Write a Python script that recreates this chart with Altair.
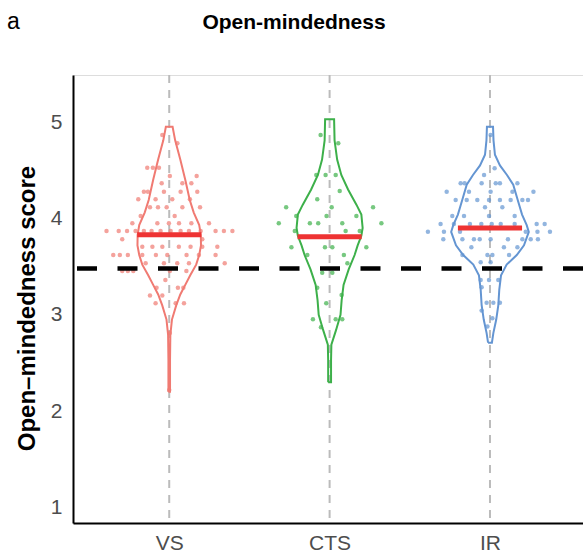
import altair as alt
import pandas as pd

# ---------------- data ----------------
groups = ["VS", "CTS", "IR"]
group_pos = [1, 2, 3]
line_colors = ["#F07A72", "#3DB04A", "#6495D2"]

# violin outlines: score level and half-width (in category units)
vs_prof_y = [2.20, 2.53, 2.79, 2.95, 3.10, 3.21, 3.31, 3.41, 3.52, 3.62, 3.72, 3.83, 3.93, 4.06, 4.19, 4.40, 4.61, 4.81, 4.95]
vs_prof_w = [0.005, 0.005, 0.007, 0.017, 0.044, 0.069, 0.100, 0.131, 0.168, 0.187, 0.198, 0.197, 0.187, 0.153, 0.128, 0.100, 0.069, 0.037, 0.021]

cts_prof_y = [2.30, 2.53, 2.69, 2.84, 3.00, 3.15, 3.31, 3.47, 3.62, 3.72, 3.82, 3.90, 4.04, 4.14, 4.30, 4.45, 4.61, 4.81, 5.03]
cts_prof_w = [0.009, 0.009, 0.011, 0.040, 0.068, 0.075, 0.087, 0.119, 0.156, 0.175, 0.198, 0.206, 0.198, 0.168, 0.115, 0.073, 0.047, 0.031, 0.028]

ir_prof_y = [2.71, 2.81, 2.95, 3.10, 3.26, 3.41, 3.52, 3.62, 3.72, 3.86, 3.93, 4.04, 4.19, 4.35, 4.45, 4.55, 4.66, 4.81, 4.95]
ir_prof_w = [0.012, 0.021, 0.039, 0.052, 0.058, 0.069, 0.104, 0.167, 0.212, 0.242, 0.229, 0.200, 0.173, 0.145, 0.106, 0.062, 0.031, 0.022, 0.019]

# jittered individual scores: score and horizontal jitter (category units)
vs_pts_y = [4.865, 4.78, 4.526, 4.526, 4.526, 4.44, 4.44, 4.364, 4.364, 4.364,
            4.277, 4.277, 4.277, 4.277, 4.277, 4.198, 4.198, 4.198, 4.198,
            4.115, 4.115, 4.115, 4.115, 4.115, 4.025, 4.025,
            3.949, 3.949, 3.949, 3.949, 3.949, 3.949,
            3.869, 3.869, 3.869, 3.869, 3.869, 3.869, 3.869, 3.869, 3.869, 3.869, 3.869, 3.869, 3.869, 3.869,
            3.783, 3.783,
            3.706, 3.706, 3.706, 3.706, 3.706, 3.706, 3.706,
            3.62, 3.62, 3.62, 3.62, 3.62, 3.62, 3.62, 3.62, 3.62,
            3.534, 3.534, 3.534, 3.534, 3.534,
            3.454, 3.454, 3.454, 3.454, 3.454,
            3.361, 3.281, 3.281, 3.281, 3.2, 3.2, 3.119, 3.119, 3.119, 2.811, 2.22]
vs_pts_dx = [-0.043, 0.051, -0.137, -0.102, -0.064, 0.004, 0.171, -0.047, 0.082, 0.138,
             -0.158, -0.133, -0.033, 0.071, 0.175, -0.193, -0.085, 0.019, 0.129,
             -0.12, -0.07, -0.016, 0.082, 0.192, -0.178, 0.034,
             -0.23, -0.074, -0.002, 0.061, 0.138, 0.248,
             -0.391, -0.315, -0.263, -0.21, -0.158, -0.11, -0.054, 0.009, 0.071, 0.123, 0.196, 0.289, 0.341, 0.394,
             -0.293, 0.206,
             -0.168, -0.105, -0.043, 0.06, 0.133, 0.206, 0.3,
             -0.349, -0.308, -0.258, -0.168, -0.083, -0.012, 0.108, 0.185, 0.289,
             -0.147, -0.033, 0.05, 0.123, 0.346,
             -0.293, -0.258, -0.224, 0.004, 0.107,
             -0.024, -0.079, 0.054, 0.088, -0.12, -0.043, -0.085, 0.04, 0.092, 0.004, 0.0]

cts_pts_y = [4.865, 4.78, 4.45, 4.45, 4.45, 4.284, 4.198, 4.115, 4.115, 4.115,
             4.025, 4.025, 4.025, 3.949, 3.949, 3.949, 3.949, 3.949,
             3.869, 3.869, 3.869, 3.70, 3.70, 3.70, 3.70, 3.62, 3.62, 3.534,
             3.437, 3.437, 3.281, 3.205, 3.119, 2.953, 2.953, 2.953, 2.87]
cts_pts_dx = [-0.056, 0.054, -0.083, -0.025, 0.038, 0.063, -0.077, -0.271, 0.013, 0.271,
              -0.208, -0.019, 0.167, -0.317, -0.123, -0.071, 0.079, 0.323,
              -0.217, 0.10, 0.188, -0.238, -0.029, 0.017, 0.229, -0.139, 0.089, 0.111,
              -0.046, 0.017, -0.077, 0.075, -0.021, -0.104, 0.038, 0.079, -0.054]

ir_pts_y = [4.865, 4.52, 4.45, 4.364, 4.364, 4.364, 4.364, 4.364, 4.364,
            4.277, 4.277, 4.277, 4.277, 4.277,
            4.191, 4.191, 4.191, 4.191, 4.191, 4.191, 4.191, 4.191,
            4.115, 4.115, 4.025, 4.025, 4.025, 4.025,
            3.942, 3.942, 3.942, 3.942, 3.942, 3.942, 3.942, 3.942, 3.942,
            3.862, 3.862, 3.862, 3.862, 3.862, 3.862,
            3.783, 3.783, 3.783, 3.783, 3.783, 3.783, 3.783, 3.783, 3.783,
            3.70, 3.70, 3.70, 3.62, 3.62, 3.62, 3.62, 3.545, 3.545,
            3.361, 3.361, 3.361, 3.285, 3.125, 3.125, 3.125, 3.043, 2.964, 2.877]
ir_pts_dx = [0.004, 0.029, -0.037, -0.183, -0.158, -0.052, 0.036, 0.062, 0.171,
             -0.27, -0.131, 0.004, 0.14, 0.271,
             -0.214, -0.145, -0.079, -0.006, 0.062, 0.129, 0.202, 0.237,
             -0.031, 0.077, -0.235, -0.162, -0.006, 0.154,
             -0.308, -0.225, -0.125, -0.054, 0.011, 0.067, 0.154, 0.291, 0.341,
             -0.387, -0.287, -0.187, 0.223, 0.296, 0.374,
             -0.291, -0.172, -0.10, -0.064, 0.004, 0.112, 0.202, 0.254, 0.299,
             -0.116, 0.087, 0.171, -0.172, -0.016, 0.015, 0.119, -0.058, 0.004,
             -0.058, -0.006, 0.052, -0.052, -0.021, 0.021, 0.062, -0.052, 0.015, -0.016]

group_means = [3.83, 3.81, 3.90]
mean_bar_halfwidth = 0.2
reference_score = 3.48

title_text = "Open-mindedness"
panel_letter = "a"

# ---------------- tables ----------------
profiles = [(vs_prof_y, vs_prof_w), (cts_prof_y, cts_prof_w), (ir_prof_y, ir_prof_w)]
points = [(vs_pts_y, vs_pts_dx), (cts_pts_y, cts_pts_dx), (ir_pts_y, ir_pts_dx)]

violin_rows = []
for g, c, (py, pw) in zip(groups, group_pos, profiles):
    order = 0
    for yv, wv in zip(py, pw):
        violin_rows.append({"group": g, "x": c - wv, "y": yv, "order": order})
        order += 1
    for yv, wv in zip(reversed(py), reversed(pw)):
        violin_rows.append({"group": g, "x": c + wv, "y": yv, "order": order})
        order += 1
    violin_rows.append({"group": g, "x": c - pw[0], "y": py[0], "order": order})
violin_df = pd.DataFrame(violin_rows)

point_rows = []
for g, c, (py, pdx) in zip(groups, group_pos, points):
    for yv, dx in zip(py, pdx):
        point_rows.append({"group": g, "x": c + dx, "y": yv})
points_df = pd.DataFrame(point_rows)

means_df = pd.DataFrame({
    "group": groups,
    "x": [c - mean_bar_halfwidth for c in group_pos],
    "x2": [c + mean_bar_halfwidth for c in group_pos],
    "y": group_means,
})
centers_df = pd.DataFrame({"group": groups, "x": group_pos})
ref_df = pd.DataFrame({"y": [reference_score]})

# ---------------- chart ----------------
FONT = "Liberation Sans"
label_expr = " : ".join(
    [f"datum.value == {p} ? '{g}'" for p, g in zip(group_pos[:-1], groups[:-1])]
) + f" : '{groups[-1]}'"

x_scale = alt.Scale(domain=[0.4, 3.58], nice=False, zero=False)
y_scale = alt.Scale(domain=[0.839, 5.488], nice=False, zero=False)
color_scale = alt.Scale(domain=groups, range=line_colors)

x_axis = alt.Axis(values=group_pos, labelExpr=label_expr, title=None, grid=False,
                  ticks=False, domainColor="black", domainWidth=2,
                  labelFontSize=21, labelColor="#4D4D4D", labelFont=FONT, labelPadding=9)
y_axis = alt.Axis(values=[1, 2, 3, 4, 5], format="d", title="Open\u2013mindedness score", grid=False,
                  ticks=False, domainColor="black", domainWidth=2,
                  labelFontSize=21, labelColor="#4D4D4D", labelFont=FONT, labelPadding=11,
                  titleFontSize=24, titleFontWeight="bold", titleFont=FONT, titleColor="black",
                  titleX=-46, titleY=233, titleAngle=-90, titleAlign="center",
                  titleBaseline="middle")

vlines = alt.Chart(centers_df).mark_rule(color="#BBBBBB", strokeWidth=2, strokeDash=[8, 7]).encode(
    x=alt.X("x:Q", scale=x_scale, axis=x_axis)
)

pts = alt.Chart(points_df).mark_circle(size=20, opacity=0.7).encode(
    x=alt.X("x:Q", scale=x_scale),
    y=alt.Y("y:Q", scale=y_scale, axis=y_axis),
    color=alt.Color("group:N", scale=color_scale, legend=None),
)

violins = alt.Chart(violin_df).mark_line(strokeWidth=2).encode(
    x=alt.X("x:Q", scale=x_scale),
    y=alt.Y("y:Q", scale=y_scale),
    color=alt.Color("group:N", scale=color_scale, legend=None),
    detail="group:N",
    order="order:Q",
)

ref_line = alt.Chart(ref_df).mark_rule(color="black", strokeWidth=4.5, strokeDash=[20, 20.5]).encode(
    y=alt.Y("y:Q", scale=y_scale)
)

mean_bars = alt.Chart(means_df).mark_rule(color="#EE3333", strokeWidth=5).encode(
    x=alt.X("x:Q", scale=x_scale),
    x2="x2:Q",
    y=alt.Y("y:Q", scale=y_scale),
)

panel_label = alt.Chart(pd.DataFrame({"t": [panel_letter]})).mark_text(
    font=FONT, fontSize=23, align="left", baseline="alphabetic", color="black"
).encode(text="t:N", x=alt.value(-66), y=alt.value(-46))

title_mark = alt.Chart(pd.DataFrame({"t": [title_text]})).mark_text(
    font=FONT, fontSize=21, fontWeight="bold", align="center", baseline="alphabetic", color="black"
).encode(text="t:N", x=alt.value(221), y=alt.value(-46))

chart = alt.layer(vlines, pts, violins, ref_line, mean_bars, panel_label, title_mark).properties(
    width=510,
    height=448,
    autosize=alt.AutoSizeParams(type="none"),
    padding={"left": 73, "top": 75, "right": 0, "bottom": 37},
).configure_view(stroke=None).configure(background="white")

chart.save("out.html", embed_options={"renderer": "svg", "actions": False})
